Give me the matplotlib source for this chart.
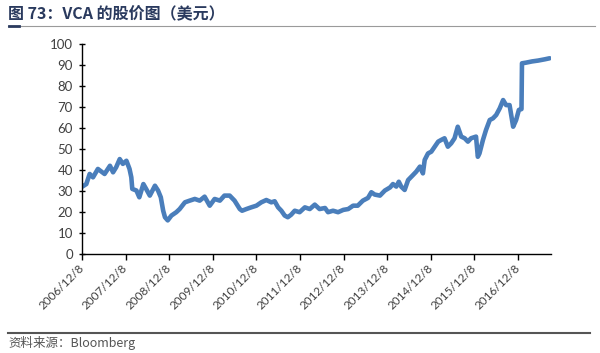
import matplotlib
matplotlib.use("Agg")
import matplotlib.pyplot as plt
import matplotlib.dates as mdates
import pandas as pd
from matplotlib.lines import Line2D

plt.rcParams['font.family'] = ['Lato', 'Noto Sans CJK SC', 'DejaVu Sans']

title = "图 73：VCA 的股价图（美元）"
source = "资料来源：Bloomberg"

dates = [
    "2006-12-08", "2007-01-13", "2007-02-10", "2007-03-10", "2007-04-20", "2007-05-20",
    "2007-06-15", "2007-07-30", "2007-08-25", "2007-09-20", "2007-10-20", "2007-11-15",
    "2007-12-15", "2008-01-10", "2008-01-25", "2008-02-02", "2008-03-08", "2008-04-01",
    "2008-05-05", "2008-05-28", "2008-06-28", "2008-08-10", "2008-09-05", "2008-09-28",
    "2008-10-18", "2008-11-02", "2008-11-25", "2008-12-26", "2009-02-05", "2009-03-05",
    "2009-04-18", "2009-05-28", "2009-07-10", "2009-08-20", "2009-09-30", "2009-11-12",
    "2009-12-23", "2010-02-05", "2010-03-15", "2010-04-28", "2010-06-08", "2010-07-22",
    "2010-08-10", "2010-09-15", "2010-10-25", "2010-12-08", "2011-01-18", "2011-03-01",
    "2011-04-12", "2011-05-10", "2011-06-08", "2011-07-05", "2011-08-02", "2011-08-28",
    "2011-09-25", "2011-10-25", "2011-12-05", "2012-01-18", "2012-02-28", "2012-04-10",
    "2012-05-20", "2012-07-05", "2012-07-30", "2012-09-10", "2012-10-22", "2012-12-05",
    "2013-01-15", "2013-02-25", "2013-04-05", "2013-05-18", "2013-06-30", "2013-07-28",
    "2013-08-25", "2013-10-08", "2013-11-18", "2014-01-01", "2014-01-25", "2014-02-22",
    "2014-03-15", "2014-04-05", "2014-05-03", "2014-06-01", "2014-07-12", "2014-08-08",
    "2014-09-08", "2014-10-03", "2014-10-18", "2014-11-15", "2014-12-12", "2015-01-10",
    "2015-02-08", "2015-03-05", "2015-04-02", "2015-04-30", "2015-05-28", "2015-06-25",
    "2015-07-22", "2015-08-20", "2015-09-18", "2015-10-15", "2015-11-10", "2015-12-22",
    "2016-01-06", "2016-01-20", "2016-02-18", "2016-03-15", "2016-04-15", "2016-05-12",
    "2016-06-08", "2016-07-08", "2016-08-05", "2016-08-30", "2016-09-28", "2016-10-28",
    "2016-11-22", "2016-12-15", "2017-01-06", "2017-01-10", "2017-02-12", "2017-04-05",
    "2017-05-25", "2017-07-20", "2017-08-30",
]
prices = [
    32.0, 33.3, 38.1, 36.5, 40.5, 39.2,
    38.1, 42.0, 38.9, 41.3, 45.2, 42.9,
    44.4, 40.5, 36.5, 31.0, 30.2, 27.0,
    33.3, 31.0, 27.8, 32.5, 30.2, 27.0,
    20.6, 17.5, 16.0, 18.3, 19.9, 21.4,
    24.6, 25.4, 26.2, 25.4, 27.3, 23.0,
    26.2, 25.4, 27.8, 27.8, 25.4, 21.4,
    20.6, 21.4, 22.2, 23.0, 24.6, 25.7,
    24.6, 25.1, 22.2, 20.6, 18.3, 17.5,
    18.7, 20.6, 19.9, 22.2, 21.4, 23.5,
    21.4, 21.9, 19.9, 20.6, 19.9, 21.0,
    21.4, 23.0, 23.0, 25.4, 26.7, 29.4,
    28.3, 27.8, 30.2, 31.7, 33.3, 32.1,
    34.4, 32.0, 30.5, 35.2, 37.6, 39.2,
    41.6, 38.4, 44.8, 47.9, 48.7, 51.1,
    53.5, 54.3, 55.1, 51.1, 52.7, 55.1,
    60.6, 55.9, 55.1, 53.5, 55.1, 55.9,
    46.3, 47.9, 54.3, 59.1, 63.8, 64.6,
    66.2, 69.4, 73.3, 70.9, 70.9, 60.6,
    63.8, 68.6, 69.0, 90.8, 91.1, 91.7,
    92.1, 92.7, 93.2,
]
tick_dates = ["2006-12-08", "2007-12-08", "2008-12-08", "2009-12-08", "2010-12-08",
              "2011-12-08", "2012-12-08", "2013-12-08", "2014-12-08", "2015-12-08",
              "2016-12-08"]
tick_labels = ["2006/12/8", "2007/12/8", "2008/12/8", "2009/12/8", "2010/12/8",
               "2011/12/8", "2012/12/8", "2013/12/8", "2014/12/8", "2015/12/8",
               "2016/12/8"]
y_ticks = [0, 10, 20, 30, 40, 50, 60, 70, 80, 90, 100]

fig = plt.figure(figsize=(6.0, 3.53), dpi=100)
fig.patch.set_facecolor('white')
ax = fig.add_axes([0.1367, 0.2805, 0.7816, 0.5949])

x = pd.to_datetime(dates)
ax.plot(x, prices, color='#4A7EBB', lw=3.3, solid_joinstyle='round', solid_capstyle='round')

ax.set_ylim(0, 100)
ax.set_xlim(pd.Timestamp("2006-12-08"), pd.Timestamp("2017-09-10"))
ax.set_yticks(y_ticks)
ax.set_yticklabels([str(v) for v in y_ticks], fontsize=9.5, color='#404040')
ax.set_xticks(pd.to_datetime(tick_dates))
ax.set_xticklabels(tick_labels, fontsize=8.5, color='#404040', rotation=45,
                   ha='right', va='center', rotation_mode='anchor')
ax.tick_params(axis='y', direction='inout', length=5, width=1, pad=4)
ax.tick_params(axis='x', direction='out', length=4, width=1, pad=5)
for s in ['top', 'right']:
    ax.spines[s].set_visible(False)
for s in ['left', 'bottom']:
    ax.spines[s].set_color('#000000')
    ax.spines[s].set_linewidth(1.0)

# Title and rules
fig.text(8 / 600, 1 - 13.5 / 353, title, fontsize=11.5, fontweight='bold', color='#2a3a5e',
         family=['Noto Sans CJK SC', 'DejaVu Sans'], va='center', ha='left')
fig.add_artist(Line2D([8 / 600, 595 / 600], [1 - 25.5 / 353] * 2, color='#9a9a9a', lw=0.8,
                      transform=fig.transFigure))
fig.add_artist(Line2D([9 / 600, 19 / 600], [1 - 25.5 / 353] * 2, color='#2a3a5e', lw=2.0,
                      transform=fig.transFigure))
fig.add_artist(Line2D([8 / 600, 590 / 600], [1 - 333 / 353] * 2, color='#555555', lw=1.5,
                      transform=fig.transFigure))
fig.text(8 / 600, 1 - 343 / 353, source, fontsize=9, style='italic', color='#555555',
         family=['Noto Sans CJK SC', 'DejaVu Sans'], va='center', ha='left')

fig.savefig("out.png", dpi=100, facecolor='white')
